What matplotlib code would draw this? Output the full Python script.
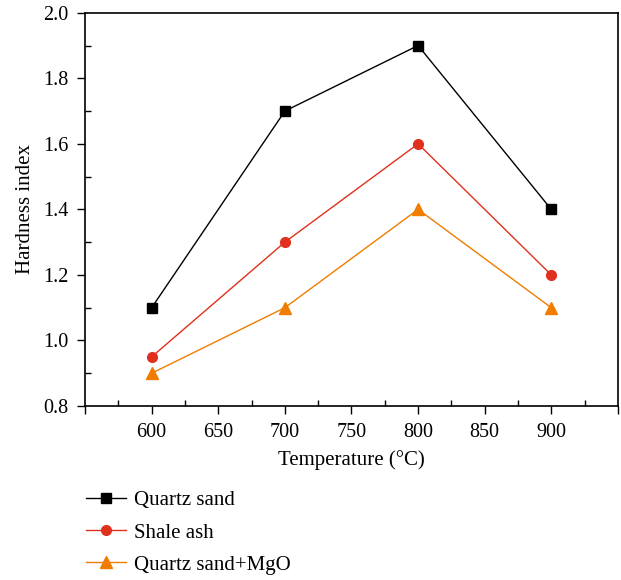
import matplotlib.pyplot as plt
from matplotlib.ticker import MultipleLocator

plt.rcParams['font.family'] = ['Liberation Serif', 'DejaVu Serif']

# datos
temperaturas = [600, 700, 800, 900]
quartz_sand = [1.1, 1.7, 1.9, 1.4]
shale_ash = [0.95, 1.3, 1.6, 1.2]
quartz_mgo = [0.9, 1.1, 1.4, 1.1]
xtick_labels = ['', '600', '650', '700', '750', '800', '850', '900', '']

fig = plt.figure(figsize=(6.21, 5.80), dpi=100)
ax = fig.add_axes([0.137, 0.300, 0.858, 0.678])

ax.plot(temperaturas, quartz_sand, color='black', lw=1, marker='s', ms=7, label='Quartz sand')
ax.plot(temperaturas, shale_ash, color='#e0301e', lw=1, marker='o', ms=7, label='Shale ash')
ax.plot(temperaturas, quartz_mgo, color='#f07c00', lw=1, marker='^', ms=8, label='Quartz sand+MgO')

ax.set_xlim(550, 950)
ax.set_ylim(0.8, 2.0)
ax.set_xticks(range(550, 951, 50))
ax.set_xticklabels(xtick_labels)
ax.xaxis.set_minor_locator(MultipleLocator(25))
ax.yaxis.set_major_locator(MultipleLocator(0.2))
ax.yaxis.set_minor_locator(MultipleLocator(0.1))
ax.tick_params(which='major', direction='out', length=6, width=1, labelsize=14.5, pad=6)
ax.tick_params(which='minor', direction='in', length=4, width=1)
for s in ax.spines.values():
    s.set_linewidth(1.2)

ax.set_xlabel('Temperature (°C)', fontsize=15, labelpad=6)
ax.set_ylabel('Hardness index', fontsize=15, labelpad=6)

fig.legend(loc='upper left', bbox_to_anchor=(0.125, 0.168), frameon=False,
           fontsize=15, labelspacing=0.6, handlelength=1.9, handletextpad=0.4,
           borderaxespad=0)

fig.savefig('out.png', dpi=100)
